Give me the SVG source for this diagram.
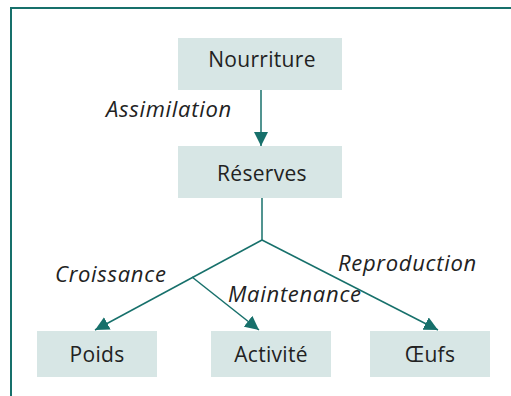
<svg xmlns="http://www.w3.org/2000/svg" width="511" height="396" viewBox="0 0 511 396">
<style>
.box{fill:#d7e6e5}
.t{font-family:"Open Sans","DejaVu Sans",sans-serif;font-size:21px;fill:#222;text-anchor:middle;letter-spacing:0.3px}
.l{font-family:"Open Sans","DejaVu Sans",sans-serif;font-size:22px;font-style:italic;fill:#222;letter-spacing:0.7px}
.c{stroke:#17706b;stroke-width:1.5;fill:none}
</style>
<defs>
<marker id="ah2" viewBox="0 0 14 14" refX="14" refY="7" markerWidth="14" markerHeight="14" markerUnits="userSpaceOnUse" orient="auto">
<path d="M0,0 L14,7 L0,14 Z" fill="#17706b"/>
</marker>
</defs>
<path d="M11,396 V8 H511" stroke="#17706b" stroke-width="2" fill="none"/>
<g id="nourriture"><rect class="box" x="178" y="38" width="164" height="52"/><text class="t" x="262" y="67">Nourriture</text></g>
<g id="reserves"><rect class="box" x="178" y="146" width="164" height="52"/><text class="t" x="262" y="181">Réserves</text></g>
<g id="poids"><rect class="box" x="37" y="331" width="120" height="46"/><text class="t" x="97" y="362">Poids</text></g>
<g id="activite"><rect class="box" x="211" y="331" width="120" height="46"/><text class="t" x="271" y="362">Activité</text></g>
<g id="oeufs"><rect class="box" x="370" y="331" width="120" height="46"/><text class="t" x="430" y="362">Œufs</text></g>
<g id="connectors">
<line class="c" x1="261" y1="90" x2="261" y2="146" marker-end="url(#ah2)"/>
<polyline class="c" points="262,198 262,240"/>
<line class="c" x1="262" y1="240" x2="95" y2="330" marker-end="url(#ah2)"/>
<line class="c" x1="262" y1="240" x2="438" y2="330" marker-end="url(#ah2)"/>
<line class="c" x1="192" y1="277" x2="259" y2="330" marker-end="url(#ah2)"/>
</g>
<g id="labels">
<text class="l" x="106" y="117">Assimilation</text>
<text class="l" x="55" y="282">Croissance</text>
<text class="l" x="228" y="302">Maintenance</text>
<text class="l" x="338" y="271">Reproduction</text>
</g>
</svg>
